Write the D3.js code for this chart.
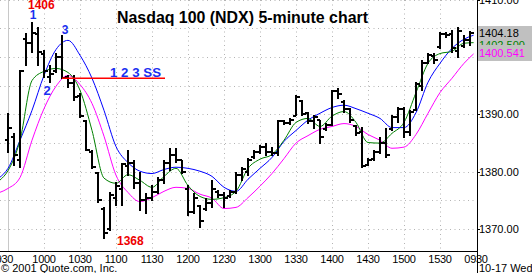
<!DOCTYPE html>
<html><head><meta charset="utf-8">
<script src="https://cdn.jsdelivr.net/npm/d3@7"></script>
<style>body{margin:0;background:#fff}svg{display:block}text{font-family:"Liberation Sans",Arial,sans-serif}</style>
</head><body><svg id="c" width="532" height="273"></svg>
<script>
// 5-minute OHLC bars, 09:30 .. 15:55
const opens=[1385.5,1386.0,1382.0,1403.2,1402.5,1404.0,1400.5,1396.5,1397.5,1400.0,1396.5,1395.5,1393.2,1388.8,1383.5,1379.8,1373.5,1370.0,1375.5,1377.0,1381.0,1381.5,1378.0,1375.0,1375.5,1376.5,1378.5,1381.5,1383.0,1382.0,1377.0,1373.0,1374.0,1373.5,1374.5,1376.5,1376.0,1375.8,1376.5,1379.5,1380.0,1382.5,1383.5,1384.4,1383.5,1383.3,1388.8,1388.5,1389.8,1392.4,1390.2,1388.8,1389.0,1387.5,1388.2,1394.0,1392.2,1391.0,1388.0,1387.0,1381.2,1382.2,1383.5,1385.0,1387.5,1389.5,1391.0,1387.0,1390.8,1395.0,1399.0,1400.2,1401.8,1404.0,1404.0,1401.0,1402.0,1403.0];
const highs=[1390.2,1386.7,1397.7,1404.1,1406.0,1405.2,1401.1,1398.5,1400.6,1403.8,1396.8,1396.8,1393.7,1389.0,1383.7,1379.9,1373.8,1376.4,1378.2,1381.5,1383.7,1382.0,1379.9,1376.2,1377.6,1379.0,1382.0,1384.1,1384.1,1382.0,1377.6,1376.2,1374.1,1375.4,1378.5,1376.8,1376.4,1376.8,1379.9,1380.8,1382.3,1383.7,1384.6,1384.9,1384.3,1389.0,1389.0,1389.3,1393.3,1392.4,1390.3,1389.8,1389.0,1388.4,1394.2,1394.5,1392.4,1391.0,1388.1,1387.7,1382.3,1383.7,1386.0,1387.6,1389.8,1391.2,1391.2,1390.7,1395.6,1399.4,1400.6,1400.6,1404.3,1404.3,1404.6,1405.2,1403.8,1404.4];
const lows=[1383.4,1381.1,1380.8,1398.5,1400.8,1398.5,1396.4,1395.6,1397.3,1396.3,1394.7,1392.4,1389.5,1383.7,1380.6,1374.7,1368.4,1369.8,1374.1,1374.1,1379.4,1377.1,1373.3,1372.8,1375.0,1376.2,1378.0,1380.2,1381.6,1379.7,1372.4,1372.8,1370.3,1373.3,1373.8,1375.5,1373.8,1375.5,1376.2,1378.5,1379.4,1382.3,1383.2,1382.9,1382.9,1382.9,1388.3,1388.3,1389.8,1389.8,1388.4,1387.6,1384.9,1387.2,1388.1,1392.8,1390.3,1388.6,1386.3,1380.8,1381.1,1382.0,1383.2,1382.5,1387.2,1388.6,1386.0,1386.3,1390.7,1394.2,1398.9,1398.9,1401.5,1403.4,1400.8,1399.9,1401.7,1402.0];
const closes=[1387.6,1383.0,1397.5,1402.5,1404.1,1400.8,1397.5,1397.0,1400.0,1396.4,1395.5,1393.0,1389.8,1383.8,1380.8,1375.0,1369.3,1376.0,1377.5,1381.3,1381.5,1378.0,1375.0,1375.5,1376.5,1378.5,1381.5,1383.0,1382.0,1380.0,1373.0,1375.5,1371.5,1374.5,1377.0,1376.0,1375.5,1376.5,1379.5,1380.5,1382.0,1383.5,1384.4,1383.5,1383.2,1388.8,1388.5,1389.0,1393.0,1390.0,1388.8,1389.5,1386.0,1388.2,1394.0,1393.5,1391.0,1389.0,1386.8,1381.0,1382.0,1383.5,1385.0,1383.0,1389.5,1391.0,1387.0,1390.5,1395.3,1399.0,1400.3,1399.5,1404.0,1403.8,1401.5,1404.5,1403.0,1404.18];

// moving average readings (minutes after 09:30)
const maTimes=[-7,0,10,20,30,40,50,60,70,80,90,100,110,120,130,140,150,160,170,180,190,200,210,220,230,240,250,260,270,280,290,300,310,320,330,340,350,360,370,380,388];
const maBlue=[1379.0,1380.6,1385.5,1390.7,1396.8,1401.3,1402.9,1400.3,1396.3,1390.7,1384.4,1381.6,1380.1,1379.7,1380.4,1380.8,1380.6,1380.1,1379.2,1377.3,1376.6,1378.7,1380.6,1382.5,1385.3,1387.2,1389.0,1390.2,1391.2,1391.6,1391.0,1390.2,1389.3,1387.7,1387.7,1390.3,1395.6,1398.9,1401.5,1403.1,1403.8];
const maGreen=[1378.5,1380.2,1385.5,1395.9,1397.5,1398.0,1397.3,1394.2,1387.2,1378.9,1378.0,1379.5,1378.5,1377.3,1379.2,1380.6,1377.6,1375.7,1375.2,1375.5,1376.6,1380.6,1382.2,1383.0,1385.5,1388.6,1389.3,1387.9,1389.7,1390.5,1388.6,1385.1,1385.0,1386.7,1388.6,1393.8,1398.9,1400.6,1401.0,1402.4,1402.5];
const maMagenta=[1376.4,1377.1,1379.0,1385.5,1391.0,1394.9,1396.8,1395.2,1391.9,1386.2,1379.4,1376.4,1374.8,1375.5,1376.6,1377.3,1377.1,1376.1,1375.4,1373.6,1373.8,1375.5,1377.5,1379.7,1382.3,1385.0,1386.3,1387.4,1387.9,1388.4,1387.9,1386.5,1385.5,1384.1,1384.3,1386.5,1390.2,1393.8,1396.3,1398.9,1400.541];

const xTickMinutes=[0,30,60,90,120,150,180,210,240,270,300,330,360,390];
const xTickLabels=["0930","1000","1030","1100","1130","1200","1230","1300","1330","1400","1430","1500","1530","0930"];
const yLabelValues=[1370,1380,1390,1400,1410];
const yGridValues=[1370,1375,1380,1385,1390,1395,1400,1405,1410];

const W=532,H=273,plotR=477,plotB=251;
const svg=d3.select("#c");
svg.append("rect").attr("width",W).attr("height",H).attr("fill","#fff");

const x=d3.scaleLinear().domain([0,390]).range([8,476]);
const y=d3.scaleLinear().domain([1370,1410]).range([229.2,-0.4]);

svg.append("defs").append("clipPath").attr("id","clip").append("rect")
  .attr("x",0).attr("y",0).attr("width",plotR).attr("height",plotB);

// grid
const g=svg.append("g");
g.selectAll(".hg").data(yGridValues).join("line")
  .attr("x1",0).attr("x2",plotR).attr("y1",d=>Math.round(y(d))+0.5).attr("y2",d=>Math.round(y(d))+0.5)
  .attr("stroke","#b4b4b4").attr("stroke-dasharray","1,3.5");
g.selectAll(".vg").data(xTickMinutes.slice(1,-1)).join("line")
  .attr("y1",0).attr("y2",plotB).attr("x1",d=>Math.round(x(d))+0.5).attr("x2",d=>Math.round(x(d))+0.5)
  .attr("stroke","#b4b4b4").attr("stroke-dasharray","1,3.5");
g.append("line").attr("x1",x(0)+0.5).attr("x2",x(0)+0.5).attr("y1",0).attr("y2",plotB)
  .attr("stroke","#c8c8c8");

// moving averages
const mk=arr=>d3.line().x((d,i)=>x(maTimes[i])).y(d=>y(d)).curve(d3.curveMonotoneX)(arr);
const maG=svg.append("g").attr("clip-path","url(#clip)");
[[maMagenta,"#ff00ff"],[maBlue,"#0000ff"],[maGreen,"#008000"]].forEach(([arr,c])=>{
  maG.append("path").attr("d",mk(arr)).attr("fill","none").attr("stroke",c).attr("stroke-width",1);
});

// OHLC bars
const bars=svg.append("g").attr("stroke","#000").attr("shape-rendering","crispEdges");
opens.forEach((o,i)=>{
  const cx=Math.round(x(i*5));
  bars.append("line").attr("stroke-width",2.6).attr("x1",cx).attr("x2",cx).attr("y1",y(highs[i])-0.5).attr("y2",y(lows[i])+0.5);
  bars.append("line").attr("stroke-width",2.2).attr("x1",cx-3.5).attr("x2",cx).attr("y1",Math.round(y(o))).attr("y2",Math.round(y(o)));
  bars.append("line").attr("stroke-width",2.2).attr("x1",cx).attr("x2",cx+3.5).attr("y1",Math.round(y(closes[i]))).attr("y2",Math.round(y(closes[i])));
});

// 1-2-3 short-sell line
const ssLevel=1396.3;
svg.append("line").attr("x1",x(45)).attr("x2",165).attr("y1",y(ssLevel)).attr("y2",y(ssLevel))
  .attr("stroke","#ff0000").attr("stroke-width",1.5);
const blueC="#1a2ff0", redC="#ee0000";
svg.append("text").attr("x",110).attr("y",y(ssLevel)-1.5).attr("font-size",13).attr("font-weight","bold")
  .attr("fill",blueC).attr("textLength",51).attr("lengthAdjust","spacingAndGlyphs").text("1 2 3 SS");
svg.append("text").attr("x",x(20)+1).attr("y",19).attr("font-size",12).attr("font-weight","bold").attr("fill",blueC).attr("text-anchor","middle").text("1");
svg.append("text").attr("x",47).attr("y",95).attr("font-size",13).attr("font-weight","bold").attr("fill",blueC).attr("text-anchor","middle").text("2");
svg.append("text").attr("x",65).attr("y",34).attr("font-size",12).attr("font-weight","bold").attr("fill",blueC).attr("text-anchor","middle").text("3");
svg.append("text").attr("x",28).attr("y",9).attr("font-size",12).attr("font-weight","bold").attr("fill",redC).text(d3.max(highs).toFixed(0));
svg.append("text").attr("x",117).attr("y",245).attr("font-size",12).attr("font-weight","bold").attr("fill",redC).text(d3.min(lows).toFixed(0));

// title
svg.append("text").attr("x",117).attr("y",23).attr("font-size",16).attr("font-weight","bold").attr("fill","#000")
  .attr("textLength",251).attr("lengthAdjust","spacingAndGlyphs").text("Nasdaq 100 (NDX) 5-minute chart");

// axes lines
svg.append("line").attr("x1",0).attr("x2",plotR).attr("y1",plotB+0.5).attr("y2",plotB+0.5).attr("stroke","#000");
svg.append("line").attr("x1",plotR+0.5).attr("x2",plotR+0.5).attr("y1",0).attr("y2",H).attr("stroke","#000");

// right axis labels
const ry=svg.append("g");
yLabelValues.forEach(v=>{
  ry.append("line").attr("x1",plotR).attr("x2",plotR+3).attr("y1",Math.round(y(v))+0.5).attr("y2",Math.round(y(v))+0.5).attr("stroke","#000");
  ry.append("text").attr("x",479).attr("y",y(v)+4).attr("font-size",11).attr("fill","#000").text(v.toFixed(2));
});

// last value boxes
svg.append("rect").attr("x",plotR+1).attr("y",26).attr("width",W-plotR).attr("height",35).attr("fill","#c0c0c0");
svg.append("text").attr("x",479).attr("y",37).attr("font-size",11).attr("fill","#000").text(closes[closes.length-1].toFixed(2));
svg.append("text").attr("x",479).attr("y",48.5).attr("font-size",11).attr("fill","#008000").text(maGreen[maGreen.length-1].toFixed(3));
svg.append("rect").attr("x",plotR+1).attr("y",45).attr("width",W-plotR).attr("height",16).attr("fill","#c0c0c0");
svg.append("text").attr("x",479).attr("y",57).attr("font-size",11).attr("fill","#ff00ff").text(maMagenta[maMagenta.length-1].toFixed(3));

// x axis labels
xTickMinutes.forEach((m,i)=>{
  svg.append("text").attr("x",x(m)+(i===0?-6.5:0)).attr("y",263).attr("font-size",11).attr("letter-spacing",-0.3)
    .attr("text-anchor","middle").attr("fill","#000").text(xTickLabels[i]);
});

// footer
svg.append("text").attr("x",1).attr("y",272).attr("font-size",11).attr("fill","#000").text("© 2001 Quote.com, Inc.");
svg.append("text").attr("x",479).attr("y",272).attr("font-size",11).attr("fill","#000").text("10-17 Wednesday");
</script></body></html>
